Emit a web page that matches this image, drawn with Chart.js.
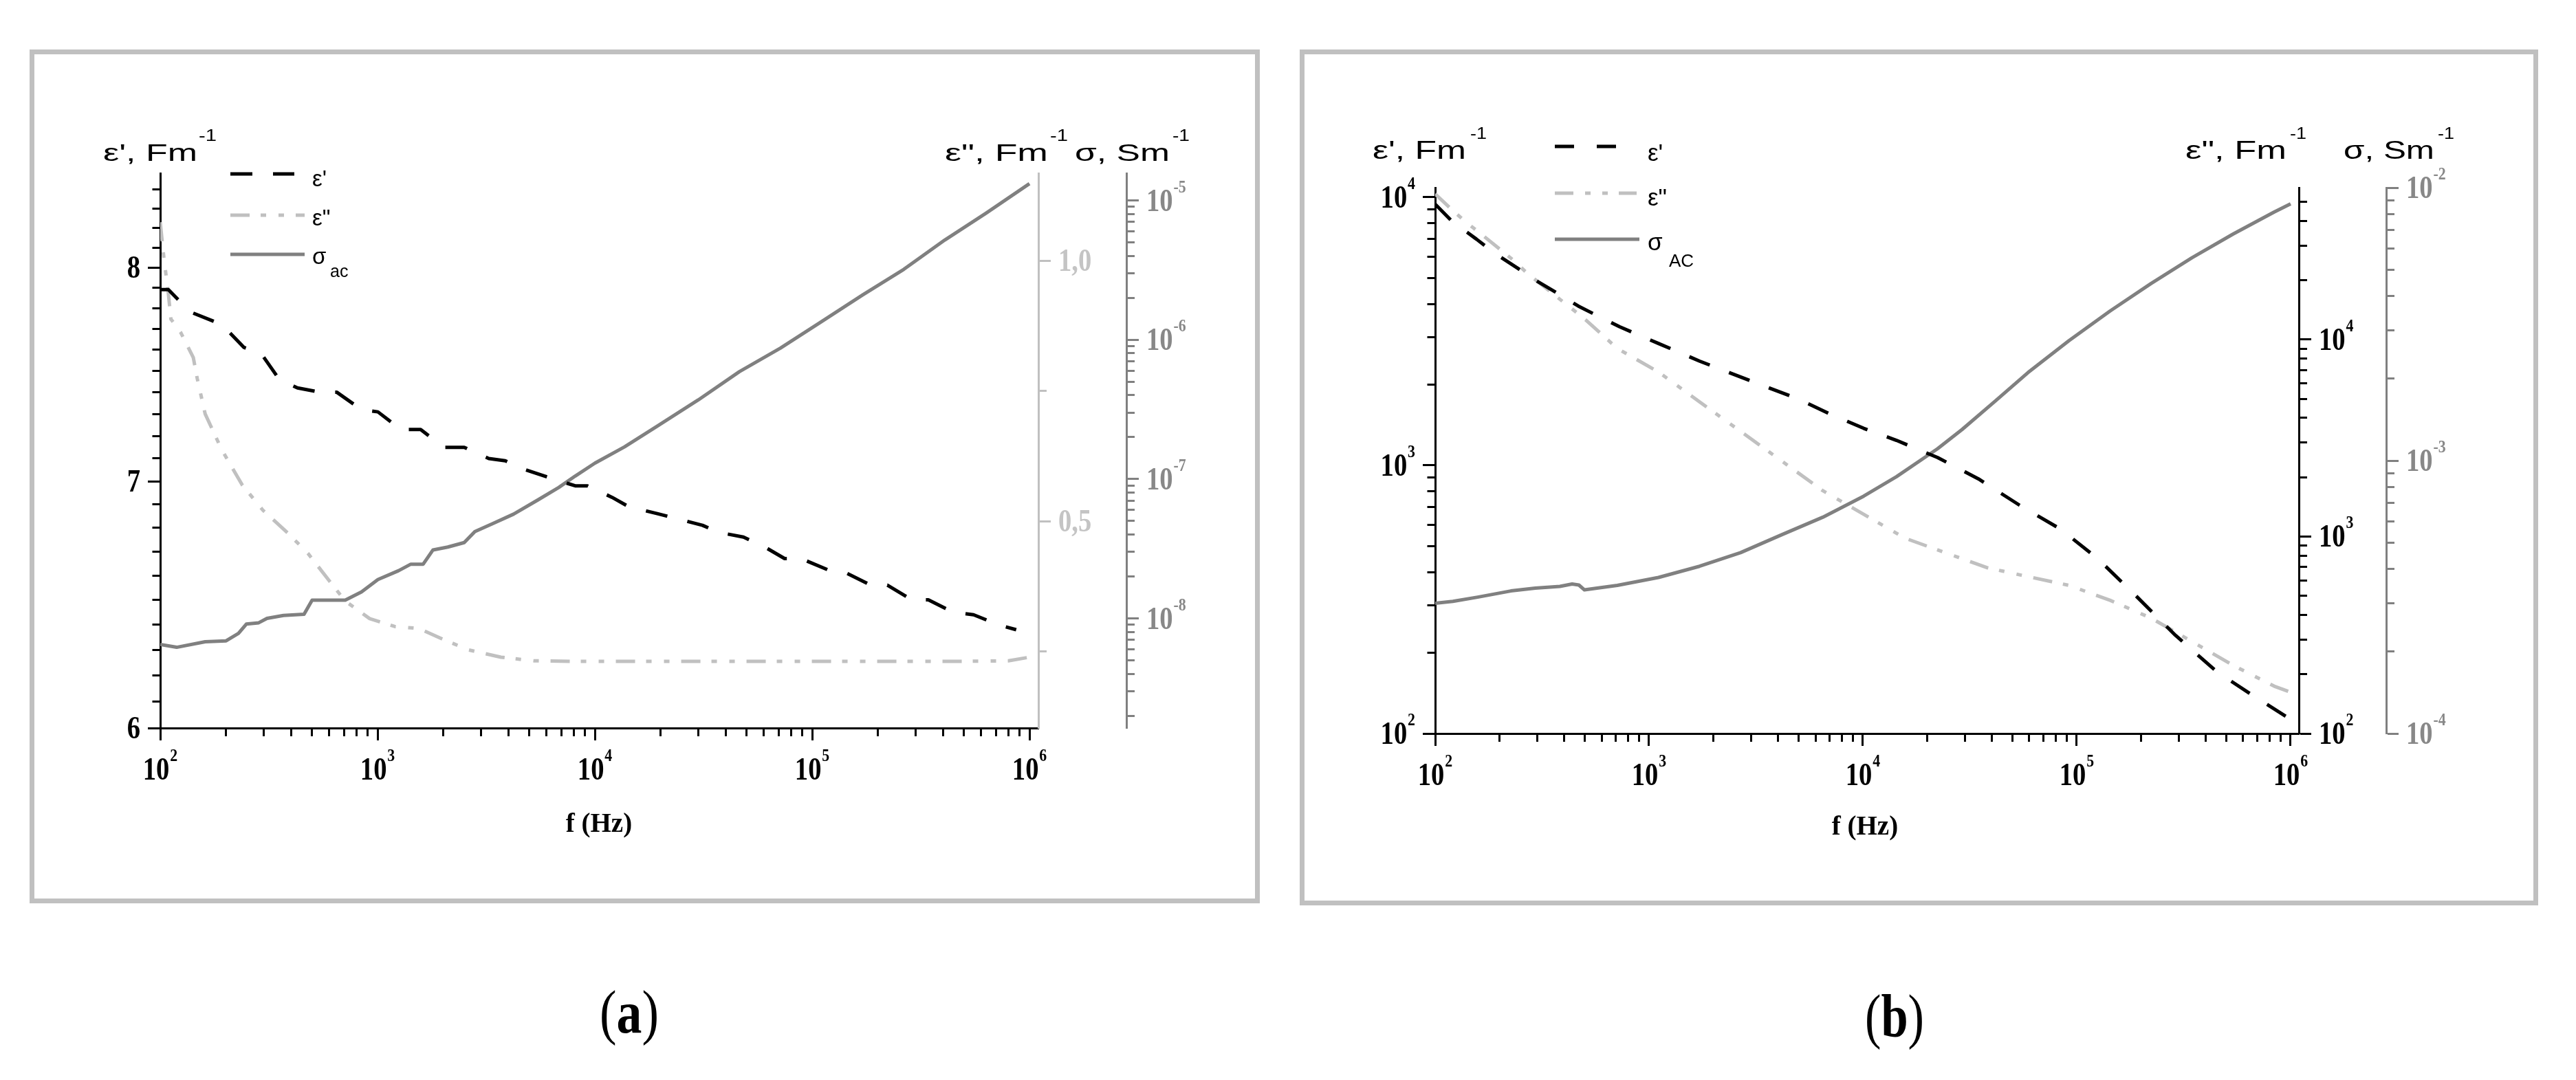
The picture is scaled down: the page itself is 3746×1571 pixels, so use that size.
<!DOCTYPE html>
<html>
<head>
<meta charset="utf-8">
<script src="https://cdn.jsdelivr.net/npm/chart.js@4.4.0/dist/chart.umd.min.js"></script>
<style>
  html, body { margin: 0; padding: 0; background: #fff; }
  #page { position: relative; width: 3746px; height: 1571px; overflow: hidden; }
  canvas { position: absolute; top: 0; }
  #chartA { left: 0; }
  #chartB { left: 1870px; }
  svg { position: absolute; left: 0; top: 0; }
  .sans { font-family: "Liberation Sans", Arial, sans-serif; }
  .serif { font-family: "Liberation Serif", "Times New Roman", serif; }
</style>
</head>
<body>
<div id="page">
  <canvas id="chartA" width="1870" height="1400"></canvas>
  <canvas id="chartB" width="1876" height="1400"></canvas>
  <svg width="3746" height="1571">
    <!-- panel frames -->
    <rect x="46.5" y="75.5" width="1782" height="1235" fill="none" stroke="#c0c0c0" stroke-width="7"/>
    <rect x="1893.5" y="75.5" width="1794" height="1238" fill="none" stroke="#c0c0c0" stroke-width="7"/>

    <!-- (a) axis titles -->
    <g class="sans" fill="#000">
      <text x="150" y="234" font-size="35" textLength="137" lengthAdjust="spacingAndGlyphs">ε', Fm</text>
      <text x="289" y="205" font-size="23" textLength="26" lengthAdjust="spacingAndGlyphs">-1</text>
      <text x="1374" y="234" font-size="35" textLength="150" lengthAdjust="spacingAndGlyphs">ε", Fm</text>
      <text x="1527" y="205" font-size="23" textLength="26" lengthAdjust="spacingAndGlyphs">-1</text>
      <text x="1563" y="234" font-size="35" textLength="138" lengthAdjust="spacingAndGlyphs">σ, Sm</text>
      <text x="1705" y="205" font-size="23" textLength="25" lengthAdjust="spacingAndGlyphs">-1</text>
    </g>
    <!-- (a) legend -->
    <line x1="335" y1="253" x2="428" y2="253" stroke="#000" stroke-width="5" stroke-dasharray="32 30"/>
    <line x1="335" y1="313" x2="443" y2="313" stroke="#c0c0c0" stroke-width="5" stroke-dasharray="28 16 8 18 8 17"/>
    <line x1="335" y1="370" x2="443" y2="370" stroke="#808080" stroke-width="5"/>
    <g class="sans" fill="#000">
      <text x="454" y="271" font-size="33">ε'</text>
      <text x="454" y="328" font-size="33">ε"</text>
      <text x="454" y="384" font-size="33">σ</text>
      <text x="480" y="403" font-size="25">ac</text>
    </g>
    <text class="serif" x="871" y="1210" font-size="39" font-weight="bold" text-anchor="middle">f (Hz)</text>
    <text class="serif" x="872" y="1502" font-size="88" textLength="86" lengthAdjust="spacingAndGlyphs">(<tspan font-weight="bold">a</tspan>)</text>

    <!-- (b) axis titles -->
    <g class="sans" fill="#000">
      <text x="1996" y="231" font-size="37" textLength="136" lengthAdjust="spacingAndGlyphs">ε', Fm</text>
      <text x="2138" y="202" font-size="23" textLength="24" lengthAdjust="spacingAndGlyphs">-1</text>
      <text x="3178" y="231" font-size="37" textLength="147" lengthAdjust="spacingAndGlyphs">ε", Fm</text>
      <text x="3330" y="202" font-size="23" textLength="24" lengthAdjust="spacingAndGlyphs">-1</text>
      <text x="3408" y="231" font-size="37" textLength="132" lengthAdjust="spacingAndGlyphs">σ, Sm</text>
      <text x="3545" y="202" font-size="23" textLength="24" lengthAdjust="spacingAndGlyphs">-1</text>
    </g>
    <!-- (b) legend -->
    <line x1="2261" y1="213" x2="2352" y2="213" stroke="#000" stroke-width="5" stroke-dasharray="28 33"/>
    <line x1="2261" y1="281" x2="2380" y2="281" stroke="#c0c0c0" stroke-width="5" stroke-dasharray="27 17 8 17 8 16"/>
    <line x1="2261" y1="348" x2="2384" y2="348" stroke="#808080" stroke-width="5"/>
    <g class="sans" fill="#000">
      <text x="2396" y="234" font-size="35">ε'</text>
      <text x="2396" y="299" font-size="35">ε"</text>
      <text x="2396" y="364" font-size="35">σ</text>
      <text x="2427" y="388" font-size="26">AC</text>
    </g>
    <text class="serif" x="2712" y="1214" font-size="39" font-weight="bold" text-anchor="middle">f (Hz)</text>
    <text class="serif" x="2712" y="1508" font-size="88" textLength="86" lengthAdjust="spacingAndGlyphs">(<tspan font-weight="bold">b</tspan>)</text>
  </svg>
</div>

<script>
// ---------- data, panel (a) ----------
const freqEpsA = [100, 109, 138, 192, 243, 292, 353, 428, 546, 650, 844, 1004, 1282, 1579, 2014, 2505,
  3252, 3871, 4811, 5984, 8115, 9245, 11995, 14280, 19370, 23480, 31290, 37220, 48310, 60090, 74690,
  88880, 120600, 143500, 186400, 221800, 287800, 342500, 444700, 553100, 717700, 869000];
const epsA = [7.89, 7.89, 7.78, 7.72, 7.61, 7.58, 7.46, 7.42, 7.40, 7.40, 7.32, 7.31, 7.23, 7.23, 7.15, 7.15,
  7.10, 7.09, 7.05, 7.02, 6.98, 6.98, 6.93, 6.89, 6.86, 6.84, 6.81, 6.78, 6.76, 6.72, 6.67,
  6.67, 6.62, 6.61, 6.56, 6.56, 6.50, 6.50, 6.45, 6.44, 6.40, 6.38];

const freqEps2A = [100, 104, 109, 112, 124, 142, 148, 161, 192, 239, 297, 385, 479, 596, 709, 920,
  1196, 1550, 2010, 2620, 3700, 5250, 8100, 20000, 100000, 500000, 800000, 1000000];
const eps2A = [1.074, 1.005, 0.937, 0.888, 0.863, 0.814, 0.774, 0.706, 0.637, 0.569, 0.521, 0.478, 0.438, 0.387,
  0.347, 0.313, 0.298, 0.294, 0.273, 0.253, 0.239, 0.232, 0.231, 0.231, 0.231, 0.231, 0.232, 0.239];

const freqSigA = [100, 119, 161, 201, 229, 249, 284, 310, 369, 459, 500, 710, 844, 1004, 1250, 1423, 1622,
  1800, 2105, 2505, 2805, 3397, 4226, 5484, 6820, 8115, 10000, 13680, 19370, 29930, 46250, 71450,
  110400, 171000, 264000, 408000, 631000, 1000000];
const sigA = [6.5e-9, 6.2e-9, 6.8e-9, 6.9e-9, 7.8e-9, 9.1e-9, 9.3e-9, 1.0e-8, 1.05e-8, 1.07e-8, 1.35e-8, 1.35e-8,
  1.55e-8, 1.9e-8, 2.2e-8, 2.45e-8, 2.45e-8, 3.1e-8, 3.25e-8, 3.5e-8, 4.2e-8, 4.8e-8, 5.6e-8, 7.1e-8,
  8.7e-8, 1.05e-7, 1.3e-7, 1.7e-7, 2.4e-7, 3.7e-7, 5.9e-7, 8.7e-7, 1.35e-6, 2.1e-6, 3.2e-6, 5.2e-6,
  8.1e-6, 1.32e-5];

// ---------- data, panel (b) ----------
const freqEpsB = [100, 120, 156, 189, 243, 299, 379, 467, 596, 728, 1107, 1722, 2925, 4975, 7080, 10090,
  14360, 22340, 34760, 54090, 84140, 125300, 186500, 290200, 451700, 671700, 982000];
const epsB = [9430, 8130, 6980, 6200, 5440, 4870, 4350, 3930, 3560, 3290, 2850, 2450, 2080, 1770, 1550, 1375,
  1240, 1070, 890, 710, 578, 449, 330, 232, 170, 138, 114];

const freqEps2B = [100, 118, 138, 168, 234, 268, 318, 459, 509, 711, 1107, 1722, 2680, 4170, 6490, 10090,
  15700, 24400, 38000, 59100, 92000, 143000, 222000, 346000, 538000, 837000, 1000000];
const eps2B = [54800, 46300, 39800, 33600, 25100, 21800, 18800, 13700, 12500, 9010, 6840, 4830, 3420, 2420, 1710, 1297,
  982, 826, 695, 626, 565, 475, 386, 293, 222, 174, 162];

const freqSigB = [100, 121, 158, 226, 294, 383, 437, 470, 499, 711, 1107, 1722, 2680, 4170, 6490, 10090,
  14360, 22340, 29100, 41500, 59100, 92000, 143000, 222000, 346000, 538000, 837000, 1000000];
const sigB = [3.0e-4, 3.05e-4, 3.16e-4, 3.33e-4, 3.41e-4, 3.46e-4, 3.53e-4, 3.5e-4, 3.36e-4, 3.49e-4, 3.73e-4,
  4.1e-4, 4.6e-4, 5.35e-4, 6.2e-4, 7.41e-4, 8.73e-4, 1.105e-3, 1.3e-3, 1.65e-3, 2.1e-3, 2.75e-3, 3.53e-3,
  4.45e-3, 5.54e-3, 6.76e-3, 8.14e-3, 8.73e-3];

// ---------- tick labels ----------
const xTickVals = [1e2, 1e3, 1e4, 1e5, 1e6];
const xTickExp = ['2', '3', '4', '5', '6'];
const epsTickValsA = [6, 7, 8];
const epsTickTextA = ['6', '7', '8'];
const eps2TickValsA = [0.5, 1.0];
const eps2TickTextA = ['0,5', '1,0'];
const sigTickValsA = [1e-8, 1e-7, 1e-6, 1e-5];
const sigTickExpA = ['-8', '-7', '-6', '-5'];
const epsTickValsB = [1e2, 1e3, 1e4];
const epsTickExpB = ['2', '3', '4'];
const eps2TickValsB = [1e2, 1e3, 1e4];
const eps2TickExpB = ['2', '3', '4'];
const sigTickValsB = [1e-4, 1e-3, 1e-2];
const sigTickExpB = ['-4', '-3', '-2'];

// colours
const BLACK = '#000000', LIGHT = '#c0c0c0', GREY = '#808080';
const dashEps = [32, 30];
const dashEps2 = [28, 16, 8, 18, 8, 17];

// minor ticks of a log axis (1..9 x 10^n inside the range)
function logTicks(lo, hi) {
  const out = [];
  for (let d = Math.floor(Math.log10(lo)); d <= Math.ceil(Math.log10(hi)); d++) {
    for (let k = 1; k < 10; k++) {
      const v = k * Math.pow(10, d);
      if (v >= lo * 0.999 && v <= hi * 1.001) out.push(v);
    }
  }
  return out;
}
function linTicks(lo, hi, step) {
  const out = [];
  for (let v = lo; v <= hi + 1e-9; v += step) out.push(Math.round(v * 1000) / 1000);
  return out;
}
const isDecade = v => Math.abs(Math.log10(v) - Math.round(Math.log10(v))) < 1e-6;

function axis(o) {
  return {
    type: o.type,
    position: o.position,
    min: o.min,
    max: o.max,
    afterBuildTicks: s => { s.ticks = o.ticks.map(v => ({ value: v })); },
    afterFit: s => {
      if (o.position === 'bottom') s.height = o.size; else s.width = o.size;
    },
    ticks: { display: false },
    grid: {
      drawOnChartArea: false,
      drawTicks: true,
      tickLength: 18,
      tickWidth: 3,
      tickColor: o.color,
      tickBorderDash: ctx => {
        const v = ctx.tick ? ctx.tick.value : null;
        if (v === null || o.major(v)) return [];
        return o.position === 'left' ? [0, 6.5, 12, 100] : [10, 100];
      }
    },
    border: { display: true, color: o.color, width: 3 }
  };
}

// label specs, read by the plugin below
const labelSpecs = {
  chartA: [
    { scale: 'x', vals: xTickVals, base: xTickVals.map(() => '10'), exp: xTickExp, color: BLACK },
    { scale: 'yL', vals: epsTickValsA, base: epsTickTextA, exp: null, color: BLACK },
    { scale: 'yE', vals: eps2TickValsA, base: eps2TickTextA, exp: null, color: '#c4c4c4' },
    { scale: 'yS', vals: sigTickValsA, base: sigTickValsA.map(() => '10'), exp: sigTickExpA, color: '#888888' }
  ],
  chartB: [
    { scale: 'x', vals: xTickVals, base: xTickVals.map(() => '10'), exp: xTickExp, color: BLACK },
    { scale: 'yL', vals: epsTickValsB, base: epsTickValsB.map(() => '10'), exp: epsTickExpB, color: BLACK },
    { scale: 'yE', vals: eps2TickValsB, base: eps2TickValsB.map(() => '10'), exp: eps2TickExpB, color: BLACK },
    { scale: 'yS', vals: sigTickValsB, base: sigTickValsB.map(() => '10'), exp: sigTickExpB, color: '#888888' }
  ]
};

const SERIF = '"Liberation Serif", "Times New Roman", serif';
function drawLabel(ctx, base, exp, x, y, align, color) {
  const size = 46, esize = 26, sx = 0.84;
  ctx.save();
  ctx.fillStyle = color;
  ctx.textBaseline = 'alphabetic';
  ctx.textAlign = 'left';
  ctx.font = 'bold ' + size + 'px ' + SERIF;
  const w1 = ctx.measureText(base).width;
  let w2 = 0;
  if (exp) {
    ctx.font = 'bold ' + esize + 'px ' + SERIF;
    w2 = ctx.measureText(exp).width + 1;
  }
  const w = (w1 + w2) * sx;
  const x0 = align === 'center' ? x - w / 2 : (align === 'right' ? x - w : x);
  ctx.translate(x0, y);
  ctx.scale(sx, 1);
  ctx.font = 'bold ' + size + 'px ' + SERIF;
  ctx.fillText(base, 0, 0);
  if (exp) {
    ctx.font = 'bold ' + esize + 'px ' + SERIF;
    ctx.fillText(exp, w1 + 1, -27);
  }
  ctx.restore();
}

const tickText = {
  id: 'tickText',
  afterDraw(chart) {
    const specs = labelSpecs[chart.canvas.id] || [];
    const ctx = chart.ctx;
    specs.forEach(sp => {
      const sc = chart.scales[sp.scale];
      sp.vals.forEach((v, i) => {
        const p = sc.getPixelForValue(v);
        const e = sp.exp ? sp.exp[i] : null;
        if (sc.position === 'bottom') drawLabel(ctx, sp.base[i], e, p, sc.top + 75, 'center', sp.color);
        else if (sc.position === 'left') drawLabel(ctx, sp.base[i], e, sc.right - 29, p + 15, 'right', sp.color);
        else drawLabel(ctx, sp.base[i], e, sc.left + 29, p + 15, 'left', sp.color);
      });
    });
  }
};

const pts = (xs, ys) => xs.map((x, i) => ({ x: x, y: ys[i] }));
function line(label, data, yAxisID, color, dash) {
  return {
    label: label, data: data, yAxisID: yAxisID,
    borderColor: color, borderWidth: 5, borderDash: dash || [],
    borderJoinStyle: 'round', pointRadius: 0, fill: false, tension: 0
  };
}

// ---------- chart (a) ----------
const xMaxA = 1.099e6;
new Chart(document.getElementById('chartA'), {
  type: 'line',
  data: {
    datasets: [
      line("ε'", pts(freqEpsA, epsA), 'yL', BLACK, dashEps),
      line('ε"', pts(freqEps2A, eps2A), 'yE', LIGHT, dashEps2),
      line('σac', pts(freqSigA, sigA), 'yS', GREY)
    ]
  },
  options: {
    responsive: false, animation: false, devicePixelRatio: 1,
    layout: { padding: { left: 193, right: 132, top: 252, bottom: 301 } },
    plugins: { legend: { display: false }, tooltip: { enabled: false } },
    scales: {
      x: axis({ type: 'logarithmic', position: 'bottom', min: 100, max: xMaxA, size: 40, color: BLACK,
        ticks: logTicks(100, xMaxA), major: isDecade }),
      yL: axis({ type: 'logarithmic', position: 'left', min: 6, max: 8.485, size: 40, color: BLACK,
        ticks: linTicks(6, 8.4, 0.1), major: v => Math.abs(v - Math.round(v)) < 1e-6 }),
      yE: axis({ type: 'linear', position: 'right', min: 0.103, max: 1.168, size: 128, color: LIGHT,
        ticks: [0.25, 0.5, 0.75, 1.0], major: v => v === 0.5 || v === 1.0 }),
      yS: axis({ type: 'logarithmic', position: 'right', min: 1.633e-9, max: 1.567e-5, size: 100, color: GREY,
        ticks: logTicks(1.633e-9, 1.567e-5), major: isDecade })
    }
  },
  plugins: [tickText]
});

// ---------- chart (b) ----------
const xMaxB = 1.093e6;
new Chart(document.getElementById('chartB'), {
  type: 'line',
  data: {
    datasets: [
      line("ε'", pts(freqEpsB, epsB), 'yL', BLACK, dashEps),
      line('ε"', pts(freqEps2B, eps2B), 'yE', LIGHT, dashEps2),
      line('σAC', pts(freqSigB, sigB), 'yS', GREY)
    ]
  },
  options: {
    responsive: false, animation: false, devicePixelRatio: 1,
    layout: { padding: { left: 177, right: 176, top: 273, bottom: 293 } },
    plugins: { legend: { display: false }, tooltip: { enabled: false } },
    scales: {
      x: axis({ type: 'logarithmic', position: 'bottom', min: 100, max: xMaxB, size: 40, color: BLACK,
        ticks: logTicks(100, xMaxB), major: isDecade }),
      yL: axis({ type: 'logarithmic', position: 'left', min: 100, max: 10860, size: 40, color: BLACK,
        ticks: logTicks(100, 10860), major: isDecade }),
      yE: axis({ type: 'logarithmic', position: 'right', min: 100, max: 59000, size: 127, color: BLACK,
        ticks: logTicks(100, 59000), major: isDecade }),
      yS: axis({ type: 'logarithmic', position: 'right', min: 1e-4, max: 1e-2, size: 100, color: GREY,
        ticks: logTicks(1e-4, 1e-2), major: isDecade })
    }
  },
  plugins: [tickText]
});
</script>
</body>
</html>
